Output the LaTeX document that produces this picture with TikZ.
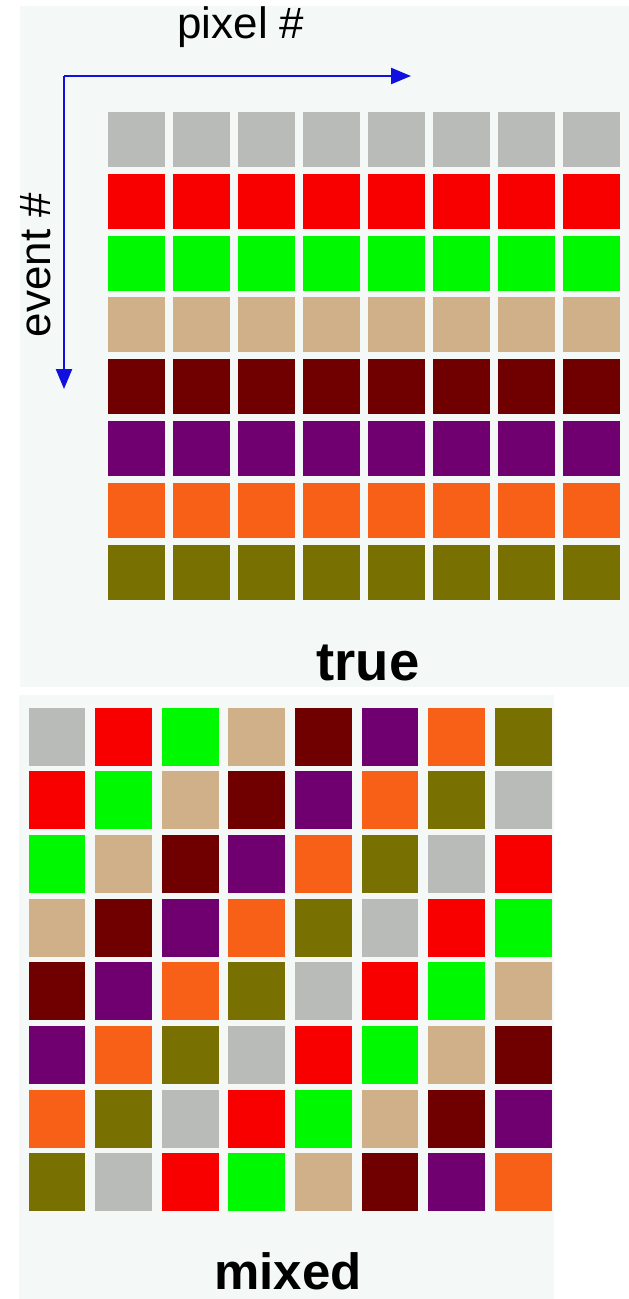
\documentclass[tikz,border=0pt]{standalone}
\usepackage{fontspec}
\setmainfont{Liberation Sans}
\usepackage{tikz}
\usetikzlibrary{arrows.meta,positioning}
\definecolor{Cpanel}{HTML}{F4F8F6}
\definecolor{Caxis}{HTML}{1010E0}
\definecolor{Cell0}{HTML}{B8BBB7}
\definecolor{Cell1}{HTML}{F80000}
\definecolor{Cell2}{HTML}{00F800}
\definecolor{Cell3}{HTML}{D0B088}
\definecolor{Cell4}{HTML}{700000}
\definecolor{Cell5}{HTML}{700070}
\definecolor{Cell6}{HTML}{F86018}
\definecolor{Cell7}{HTML}{787000}

\begin{document}
\begin{tikzpicture}[
  x=0.02cm, y=-0.02cm, >={Triangle[length=4mm, width=3.2mm]},
  panel/.style  ={fill=Cpanel, draw=none},
  cell/.style   ={rectangle, inner sep=0pt, minimum width=1.14cm, minimum height=1.10cm},
  mixcell/.style={rectangle, inner sep=0pt, minimum width=1.14cm, minimum height=1.16cm},
  axis/.style   ={->, line width=1.4pt, Caxis},
  axislab/.style={font=\fontsize{25}{28}\selectfont, text=black},
  caption/.style={font=\fontsize{31}{34}\selectfont\bfseries, text=black},
]

% ── page + panel backgrounds ─────────────────────────────────────────
\useasboundingbox[fill=white] (0,0) rectangle (629,1299);
\fill[panel] (20,6) rectangle (629,687);
\fill[panel] (19,695) rectangle (554,1299);

% ── axes: pixel # across, event # down ───────────────────────────────
\coordinate (orig) at (64,76);
\coordinate (xend) at (411,76);
\coordinate (yend) at (64,389);
\draw[axis] (orig) -- (xend);
\draw[axis] (orig) -- (yend);
\node[axislab] (pixlab) at (241,27) {pixel \#};
\node[axislab, rotate=90] (evlab) at (36,265) {event \#};

% ── true: each event keeps one colour across all pixels ──────────────
\foreach \i in {0,...,7}
  \foreach \j in {0,...,7}
    \node[cell, fill=Cell\i] (t\i\j) at (136.5+65*\j, 139.5+61.8*\i) {};
\node[caption] (truelab) at (368,663) {true};

% ── mixed: colours shifted by one pixel per event ────────────────────
\foreach \i in {0,...,7}
  \foreach \j in {0,...,7} {
    \pgfmathtruncatemacro{\k}{mod(\i+\j,8)}
    \node[mixcell, fill=Cell\k] (m\i\j) at (57+66.6*\j, 736.5+63.7*\i) {};
  }
\node[caption, font=\fontsize{29}{32}\selectfont\bfseries] (mixlab) at (288,1271) {mixed};

\end{tikzpicture}
\end{document}
